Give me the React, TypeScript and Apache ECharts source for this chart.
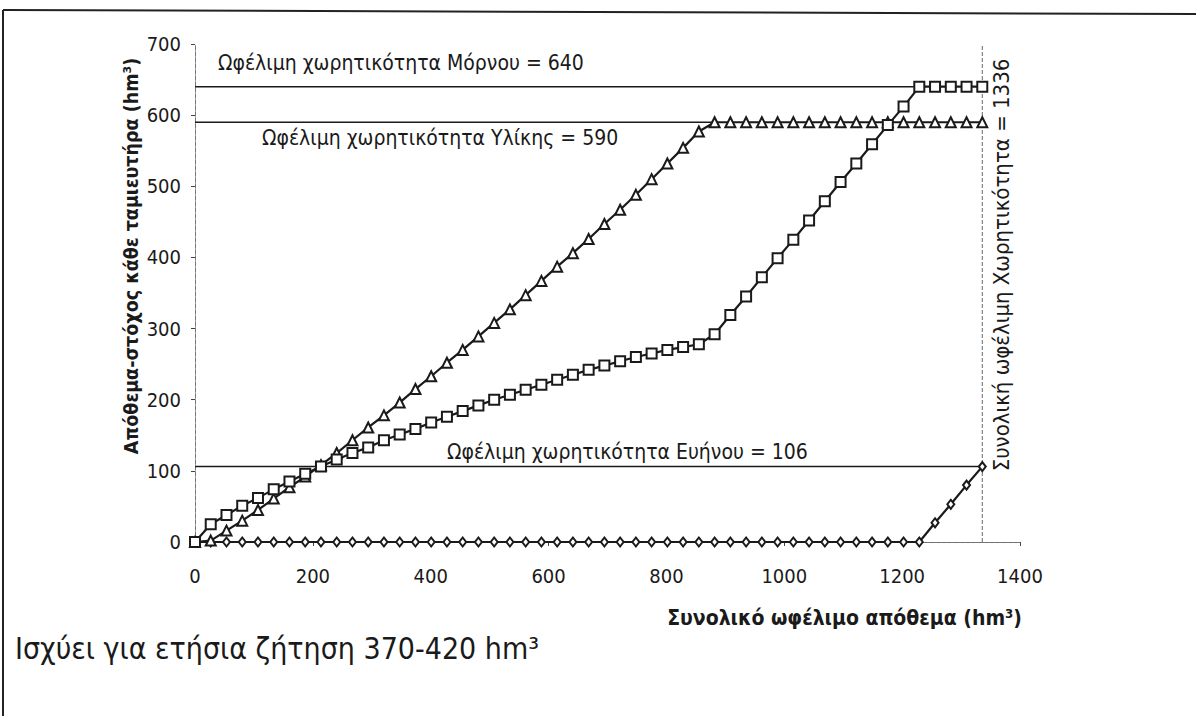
import React, { useEffect, useRef } from "react";
import * as echarts from "echarts";

// Total useful storage (hm3) at each computation step
const TOTAL_STORAGE = [
  0, 26.72, 53.44, 80.16, 106.88, 133.6, 160.32, 187.04, 213.76, 240.48,
  267.2, 293.92, 320.64, 347.36, 374.08, 400.8, 427.52, 454.24, 480.96, 507.68,
  534.4, 561.12, 587.84, 614.56, 641.28, 668, 694.72, 721.44, 748.16, 774.88,
  801.6, 828.32, 855.04, 881.76, 908.48, 935.2, 961.92, 988.64, 1015.36, 1042.08,
  1068.8, 1095.52, 1122.24, 1148.96, 1175.68, 1202.4, 1229.12, 1255.84, 1282.56, 1309.28,
  1336,
];

// Target storage of Mornos (squares)
const MORNOS = [
  0, 25, 38, 51, 62, 74, 85, 96, 106, 116,
  125, 133, 143, 151, 159, 168, 176, 184, 192, 200,
  207, 214, 221, 228, 235, 242, 248, 254, 260, 265,
  270, 274, 278, 292, 319, 345, 372, 399, 425, 452,
  479, 506, 532, 559, 586, 612, 640, 640, 640, 640,
  640,
];

// Target storage of Yliki (triangles)
const YLIKI = [
  0, 2, 16, 30, 45, 61, 77, 92, 108, 125,
  143, 161, 178, 196, 215, 233, 252, 270, 289, 308,
  327, 347, 367, 387, 406, 426, 447, 467, 488, 510,
  532, 554, 577, 590, 590, 590, 590, 590, 590, 590,
  590, 590, 590, 590, 590, 590, 590, 590, 590, 590,
  590,
];

// Target storage of Evinos (diamonds)
const EVINOS = [
  0, 0, 0, 0, 0, 0, 0, 0, 0, 0,
  0, 0, 0, 0, 0, 0, 0, 0, 0, 0,
  0, 0, 0, 0, 0, 0, 0, 0, 0, 0,
  0, 0, 0, 0, 0, 0, 0, 0, 0, 0,
  0, 0, 0, 0, 0, 0, 0, 27, 53, 80,
  106,
];

// Reference capacities
const CAP_MORNOS = 640;
const CAP_MORNOS_END = 1229.12;
const CAP_YLIKI = 590;
const CAP_YLIKI_END = 881.76;
const CAP_EVINOS = 106;
const CAP_TOTAL = 1336;

const X_MIN = 0, X_MAX = 1400, X_STEP = 200;
const Y_MIN = 0, Y_MAX = 700, Y_STEP = 100;

const TXT_MORNOS = "Ωφέλιμη χωρητικότητα Μόρνου = 640";
const TXT_YLIKI = "Ωφέλιμη χωρητικότητα Υλίκης = 590";
const TXT_EVINOS = "Ωφέλιμη χωρητικότητα Ευήνου = 106";
const TXT_TOTAL = "Συνολική ωφέλιμη Χωρητικότητα = 1336";
const TXT_X = "Συνολικό ωφέλιμο απόθεμα (hm³)";
const TXT_Y = "Απόθεμα-στόχος κάθε ταμιευτήρα (hm³)";
const TXT_NOTE = "Ισχύει για ετήσια ζήτηση 370-420 hm³";

const NARROW = "'Liberation Sans Narrow', 'Arial Narrow', 'DejaVu Sans Condensed', sans-serif";
const INK = "#1a1a1a";

export default function App() {
  const ref = useRef<HTMLDivElement>(null);
  useEffect(() => {
    document.body.style.margin = "0";
    const chart = echarts.init(ref.current!, null, { renderer: "svg" });
    const pairs = (ys: number[]) => TOTAL_STORAGE.map((x, i) => [x, ys[i]]);
    const markerSeries = (name: string, ys: number[], symbol: string, size: any) => ({
      name,
      type: "line",
      data: pairs(ys),
      symbol,
      symbolSize: size,
      showSymbol: true,
      lineStyle: { color: INK, width: 2.2 },
      itemStyle: { color: "#fff", borderColor: INK, borderWidth: 2 },
      z: 5,
    });
    const refLine = (data: number[][], dashed = false) => ({
      type: "line",
      data,
      symbol: "none",
      lineStyle: { color: dashed ? "#666" : INK, width: dashed ? 1 : 1.5, type: dashed ? "dashed" : "solid" },
      z: 3,
      silent: true,
    });
    const labelText = (text: string, x: number, y: number, size: number, opts: any = {}) => ({
      type: "text",
      x,
      y,
      rotation: opts.rotation || 0,
      style: {
        text,
        fill: INK,
        fontSize: size,
        fontFamily: opts.family || NARROW,
        fontWeight: opts.weight || "normal",
        align: opts.align || "left",
        textAlign: opts.align || "left",
        verticalAlign: "middle",
        textVerticalAlign: "middle",
      },
    });
    const plain = (v: number) => String(v);
    chart.setOption({
      animation: false,
      backgroundColor: "#fff",
      grid: { left: 195, top: 44, right: 176, bottom: 174, containLabel: false },
      xAxis: [
        {
          type: "value",
          min: X_MIN,
          max: X_MAX,
          interval: X_STEP,
          axisLine: { show: true, onZero: false, lineStyle: { color: "#666", width: 1 } },
          axisTick: { show: true, length: 4, lineStyle: { color: "#444" } },
          axisLabel: { color: INK, fontSize: 20, fontFamily: NARROW, margin: 24, formatter: plain },
          splitLine: { show: false },
        },
        {
          type: "value",
          position: "top",
          min: X_MIN,
          max: X_MAX,
          axisLine: { show: true, lineStyle: { color: "#777", width: 1, type: "dashed" } },
          axisTick: { show: false },
          axisLabel: { show: false },
          splitLine: { show: false },
        },
      ],
      yAxis: [
        {
          type: "value",
          min: Y_MIN,
          max: Y_MAX,
          interval: Y_STEP,
          axisLine: { show: true, onZero: false, lineStyle: { color: "#555", width: 1, type: "dashed" } },
          axisTick: { show: true, length: 4, lineStyle: { color: "#444" } },
          axisLabel: { color: INK, fontSize: 20, fontFamily: NARROW, margin: 14, formatter: plain },
          splitLine: { show: false },
        },
        {
          type: "value",
          position: "right",
          min: Y_MIN,
          max: Y_MAX,
          axisLine: { show: true, lineStyle: { color: "#777", width: 1, type: "dashed" } },
          axisTick: { show: false },
          axisLabel: { show: false },
          splitLine: { show: false },
        },
      ],
      series: [
        refLine([[0, CAP_MORNOS], [CAP_MORNOS_END, CAP_MORNOS]]),
        refLine([[0, CAP_YLIKI], [CAP_YLIKI_END, CAP_YLIKI]]),
        refLine([[0, CAP_EVINOS], [CAP_TOTAL, CAP_EVINOS]]),
        refLine([[CAP_TOTAL, Y_MIN], [CAP_TOTAL, Y_MAX]], true),
        markerSeries("Εύηνος", EVINOS, "diamond", [7, 9]),
        markerSeries("Υλίκη", YLIKI, "triangle", 10),
        markerSeries("Μόρνος", MORNOS, "rect", 10),
      ],
      graphic: [
        { type: "line", shape: { x1: 3, y1: 10, x2: 1196, y2: 14 }, style: { stroke: "#222", lineWidth: 2 } },
        { type: "line", shape: { x1: 3, y1: 10, x2: 3, y2: 716 }, style: { stroke: "#222", lineWidth: 2 } },
        labelText(TXT_MORNOS, 218, 63, 21),
        labelText(TXT_YLIKI, 262, 138, 21),
        labelText(TXT_EVINOS, 447, 452, 21),
        labelText(TXT_TOTAL, 1001, 265, 22, { rotation: Math.PI / 2, align: "center" }),
        labelText(TXT_Y, 131, 256, 19.5, { rotation: Math.PI / 2, align: "center", weight: "bold" }),
        labelText(TXT_X, 1022, 618, 21, { align: "right", weight: "bold" }),
        labelText(TXT_NOTE, 15, 648, 30),
      ],
    });
    return () => chart.dispose();
  }, []);
  return <div ref={ref} style={{ width: 1196, height: 716 }} />;
}
